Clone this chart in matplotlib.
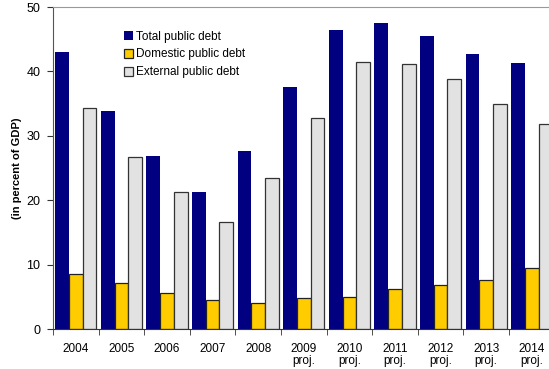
import numpy as np
import matplotlib
matplotlib.use("Agg")
import matplotlib.pyplot as plt

years = ["2004", "2005", "2006", "2007", "2008", "2009\nproj.", "2010\nproj.",
         "2011\nproj.", "2012\nproj.", "2013\nproj.", "2014\nproj."]
total_debt = [43.0, 33.9, 26.9, 21.3, 27.6, 37.6, 46.4, 47.5, 45.5, 42.7, 41.3]
domestic_debt = [8.5, 7.1, 5.6, 4.5, 4.0, 4.8, 5.0, 6.2, 6.8, 7.6, 9.5]
external_debt = [34.4, 26.7, 21.3, 16.7, 23.5, 32.7, 41.4, 41.2, 38.8, 35.0, 31.8]

plt.rcParams["font.family"] = ["Liberation Sans", "DejaVu Sans"]

fig = plt.figure(figsize=(5.49, 3.69), dpi=100)
ax = fig.add_axes([0.0965, 0.108, 0.9137, 0.873])

x = np.arange(len(years))
w = 0.3
ax.bar(x - w, total_debt, w, color="#000080", label="Total public debt")
ax.bar(x, domestic_debt, w, color="#ffcc00", edgecolor="#222222", linewidth=0.9,
       label="Domestic public debt")
ax.bar(x + w, external_debt, w, color="#e2e2e2", edgecolor="#333333", linewidth=0.9,
       label="External public debt")

ax.set_xlim(-0.5, len(years) - 0.5)
ax.set_ylim(0, 50)
ax.set_yticks(range(0, 51, 10))
ax.set_xticks(x)
ax.set_xticklabels(years, fontsize=8.5, linespacing=1.05)
ax.set_xticks(np.arange(-0.5, len(years)), minor=True)
ax.tick_params(axis="x", which="major", length=0, pad=10)
ax.tick_params(axis="x", which="minor", length=4, direction="out", color="#333333")
ax.tick_params(axis="y", labelsize=9, length=4, direction="out", color="#333333", pad=5)

ax.spines["top"].set_color("#999999")
ax.spines["left"].set_color("#555555")
ax.spines["bottom"].set_color("#333333")
ax.spines["right"].set_visible(False)

ax.set_ylabel("(in percent of GDP)", fontsize=8, fontweight="bold", labelpad=3)

ax.legend(loc="upper left", bbox_to_anchor=(0.12, 0.96), frameon=False, fontsize=8.5,
          handlelength=0.75, handleheight=0.75, handletextpad=0.3, labelspacing=0.5)

fig.savefig("out.png", dpi=100)
